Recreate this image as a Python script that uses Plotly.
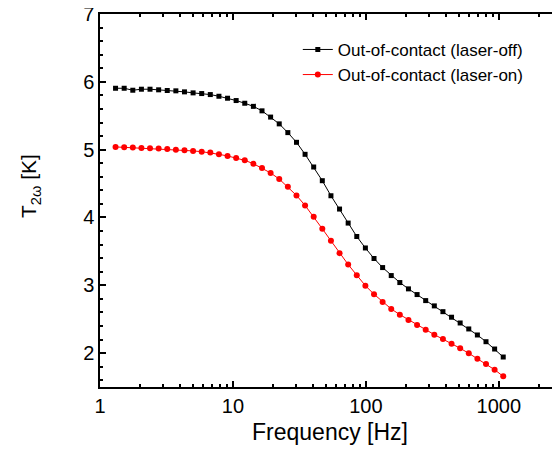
import plotly.graph_objects as go

freq = [1.309, 1.520, 1.765, 2.049, 2.378, 2.761, 3.205, 3.721, 4.319, 5.014,
        5.821, 6.757, 7.845, 9.108, 10.57, 12.27, 14.25, 16.54, 19.20, 22.29,
        25.88, 30.05, 34.88, 40.49, 47.01, 54.58, 63.36, 73.55, 85.39, 99.13,
        115.1, 133.6, 155.1, 180.0, 209.0, 242.7, 281.7, 327.1, 379.7, 440.8,
        511.7, 594.0, 689.6, 800.6, 929.4, 1079]

laser_off = [5.905, 5.905, 5.876, 5.891, 5.891, 5.882, 5.872, 5.867, 5.852, 5.837,
             5.827, 5.812, 5.787, 5.758, 5.724, 5.684, 5.638, 5.572, 5.480, 5.380,
             5.251, 5.108, 4.931, 4.744, 4.542, 4.320, 4.124, 3.917, 3.719, 3.550,
             3.395, 3.261, 3.143, 3.040, 2.947, 2.863, 2.774, 2.696, 2.611, 2.529,
             2.444, 2.356, 2.267, 2.168, 2.060, 1.942]

laser_on = [5.040, 5.034, 5.030, 5.025, 5.019, 5.015, 5.010, 5.000, 4.990, 4.981,
            4.970, 4.956, 4.931, 4.907, 4.877, 4.842, 4.793, 4.730, 4.656, 4.567,
            4.453, 4.325, 4.177, 4.010, 3.833, 3.656, 3.474, 3.306, 3.149, 2.994,
            2.868, 2.755, 2.651, 2.567, 2.489, 2.415, 2.346, 2.272, 2.208, 2.139,
            2.071, 1.997, 1.917, 1.839, 1.755, 1.657]

x_major = [1, 10, 100, 1000]
x_minor = [2, 3, 4, 5, 6, 7, 8, 9, 20, 30, 40, 50, 60, 70, 80, 90,
           200, 300, 400, 500, 600, 700, 800, 900, 2000]

font = "Arial, Liberation Sans, sans-serif"

fig = go.Figure()
fig.add_trace(go.Scatter(
    x=freq, y=laser_off, mode="lines+markers", name="Out-of-contact (laser-off)",
    line=dict(color="black", width=1),
    marker=dict(symbol="square", size=5, color="black")))
fig.add_trace(go.Scatter(
    x=freq, y=laser_on, mode="lines+markers", name="Out-of-contact (laser-on)",
    line=dict(color="#ff0000", width=1),
    marker=dict(symbol="circle", size=6, color="#ff0000")))

# page body has an 8px margin, so the figure is shifted and a bit smaller
fig.update_layout(
    width=552, height=437,
    margin=dict(l=92, r=0, t=6, b=58),
    plot_bgcolor="white", paper_bgcolor="white",
    font=dict(family=font, color="black", size=20),
    showlegend=True,
    legend=dict(x=0.43, y=0.952, xanchor="left", yanchor="top",
                font=dict(size=17, family=font), bgcolor="rgba(0,0,0,0)",
                tracegroupgap=0),
    xaxis=dict(
        type="log", range=[0, 3.46], automargin=False,
        title=dict(text="Frequency [Hz]", font=dict(size=23), standoff=11),
        tickvals=x_major, ticktext=[str(v) for v in x_major],
        ticks="inside", ticklen=6, tickwidth=1.5, tickcolor="black",
        minor=dict(tickvals=x_minor, ticks="inside", ticklen=3,
                   tickwidth=1.5, tickcolor="black"),
        showline=True, linecolor="black", linewidth=1.5, mirror="allticks",
        showgrid=False, zeroline=False, tickfont=dict(size=20)),
    yaxis=dict(
        range=[1.5, 7], automargin=False, ticklabeloverflow="allow",
        dtick=1, tick0=0,
        ticks="inside", ticklen=6, tickwidth=1.5, tickcolor="black",
        minor=dict(dtick=0.2, ticks="inside", ticklen=3,
                   tickwidth=1.5, tickcolor="black"),
        showline=True, linecolor="black", linewidth=1.5, mirror=False,
        showgrid=False, zeroline=False, tickfont=dict(size=20)),
    annotations=[dict(
        text="T<sub>2ω</sub> [K]", textangle=-90, showarrow=False,
        xref="paper", yref="paper", x=-0.152, y=0.539,
        xanchor="center", yanchor="middle", font=dict(size=21))],
)

fig.write_html("out.html")
